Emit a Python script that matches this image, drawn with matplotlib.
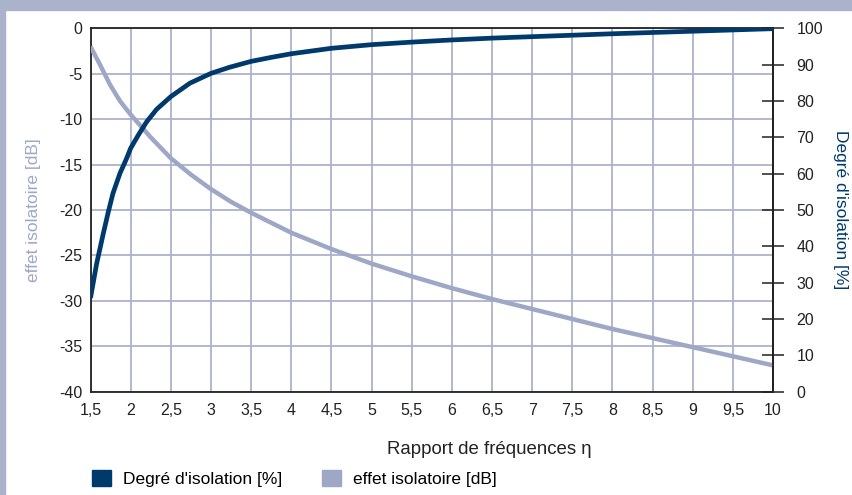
import numpy as np
import matplotlib.pyplot as plt
from matplotlib.patches import Patch, Rectangle

plt.rcParams['font.family'] = ['Liberation Sans', 'DejaVu Sans']
plt.rcParams['axes.unicode_minus'] = False

# rapport de fréquences
eta_deg = [1.5, 1.577, 1.66, 1.722, 1.78, 1.867, 1.95, 2.0, 2.095, 2.2, 2.323, 2.5, 2.738,
           3.0, 3.235, 3.5, 3.75, 4.0, 4.5, 5.0, 5.5, 6.0, 6.5, 7.0, 8.0, 9.0, 10.0]
# degré d'isolation en %
degre = [25.8, 35.3, 43.6, 49.5, 54.6, 60.1, 64.2, 67.0, 70.6, 74.3, 77.7, 81.2, 84.9,
         87.6, 89.3, 90.9, 92.0, 93.0, 94.5, 95.5, 96.2, 96.8, 97.3, 97.7, 98.5, 99.2, 99.9]

eta_db = [1.5, 1.618, 1.743, 1.867, 2.0, 2.25, 2.5, 2.75, 3.0, 3.25, 3.5, 4.0, 4.5, 5.0,
          5.5, 6.0, 6.5, 7.0, 7.5, 8.0, 8.5, 9.0, 9.5, 10.0]
# effet isolatoire en dB
effet = [-2.0, -4.0, -6.2, -8.0, -9.5, -12.0, -14.3, -16.1, -17.7, -19.1, -20.3, -22.5,
         -24.3, -25.9, -27.3, -28.6, -29.8, -30.9, -32.0, -33.1, -34.1, -35.1, -36.1, -37.1]

x_ticks = np.arange(1.5, 10.01, 0.5)
x_labels = [f"{v:g}".replace(".", ",") for v in x_ticks]

bleu = "#003a6c"
gris = "#9ea7c6"
grille = "#aab2cd"

fig = plt.figure(figsize=(8.53, 4.95), dpi=100)
fig.patches.append(Rectangle((0, 1 - 10 / 495), 1, 10 / 495, transform=fig.transFigure,
                             color="#aab3cb", zorder=0))
fig.patches.append(Rectangle((0, 0), 5 / 853, 1, transform=fig.transFigure,
                             color="#aab3cb", zorder=0))

ax1 = fig.add_axes([0.1061, 0.2087, 0.8001, 0.7341])
ax1.plot(eta_db, effet, color=gris, linewidth=3.2, solid_capstyle="butt",
         solid_joinstyle="round", zorder=3)
ax1.set_xlim(1.5, 10)
ax1.set_ylim(-40, 0)
ax1.set_xticks(x_ticks)
ax1.set_xticklabels(x_labels)
ax1.set_yticks(np.arange(-40, 1, 5))
ax1.grid(True, color=grille, linewidth=1.3)
ax1.tick_params(axis="x", length=0, labelsize=11.5, colors="#222222", pad=8)
ax1.tick_params(axis="y", length=0, labelsize=11.5, colors="#222222", pad=6)
ax1.set_ylabel("effet isolatoire [dB]", color=gris, fontsize=12.5, labelpad=13)
ax1.set_xlabel("Rapport de fréquences η", fontsize=13.4, color="#222222")
ax1.xaxis.set_label_coords(0.585, -0.135)
for s in ax1.spines.values():
    s.set_linewidth(1.3)
    s.set_color("#222222")

ax2 = ax1.twinx()
ax2.plot(eta_deg, degre, color=bleu, linewidth=3.4, solid_capstyle="butt",
         solid_joinstyle="round", zorder=3)
ax2.set_ylim(0, 100)
ax2.set_yticks(np.arange(0, 101, 10))
ax2.tick_params(direction="inout", length=16, width=1.1, labelsize=11.5, colors="#222222", pad=9)
ax2.set_ylabel("Degré d'isolation [%]", color=bleu, fontsize=12.5, rotation=270, labelpad=18)
for s in ax2.spines.values():
    s.set_visible(False)
ax2.spines["right"].set_visible(True)
ax2.spines["right"].set_linewidth(1.3)
ax2.spines["right"].set_color("#222222")

poignees = [Patch(facecolor=bleu, edgecolor=bleu), Patch(facecolor=gris, edgecolor=gris)]
fig.legend(poignees, ["Degré d'isolation [%]", "effet isolatoire [dB]"], ncol=2,
           loc="center left", bbox_to_anchor=(0.090, 0.034), frameon=False, fontsize=12.5,
           handlelength=1.08, handleheight=1.08, columnspacing=2.3, handletextpad=0.69)

fig.savefig("out.png", dpi=100)
